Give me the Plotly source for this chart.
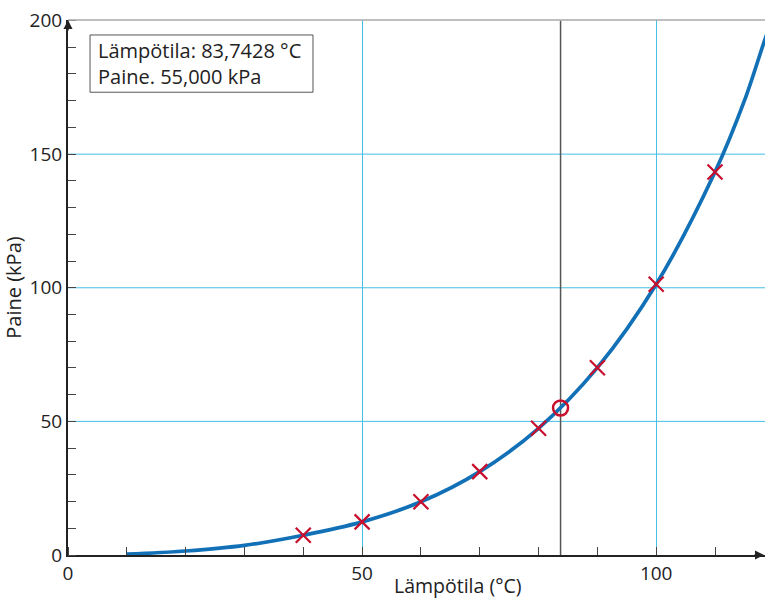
import plotly.graph_objects as go

# Measured points (temperature °C, pressure kPa)
meas_t = [40, 50, 60, 70, 80, 90, 100, 110]
meas_p = [7.4, 12.4, 19.9, 31.2, 47.4, 70.1, 101.3, 143.3]

# Fitted curve
curve_t = [10, 20, 30, 40, 50, 60, 70, 80, 90, 100, 110, 115, 118.5, 120]
curve_p = [0.3, 1.5, 3.6, 7.4, 12.4, 19.9, 31.2, 47.4, 70.1, 101.3, 143.3, 170.0, 193.0, 202.0]

sel_t = [83.7428]
sel_p = [55.0]

x_ticks = [0, 50, 100]
y_ticks = [0, 50, 100, 150, 200]

FONT = "Open Sans"
BLUE = "#1170b6"
RED = "#c8102e"
GRID = "#45bfe6"

fig = go.Figure()
fig.add_trace(go.Scatter(x=curve_t, y=curve_p, mode="lines",
                         line=dict(color=BLUE, width=3.7, shape="spline"),
                         hoverinfo="skip", showlegend=False))
fig.add_trace(go.Scatter(x=meas_t, y=meas_p, mode="markers",
                         marker=dict(symbol="x-thin", size=15, line=dict(color=RED, width=2.2)),
                         showlegend=False))
fig.add_trace(go.Scatter(x=sel_t, y=sel_p, mode="markers",
                         marker=dict(symbol="circle-open", size=15, color=RED, line=dict(color=RED, width=2.5)),
                         showlegend=False))

# horizontal grid lines at the inner y ticks
for yv in y_ticks[1:-1]:
    fig.add_shape(type="line", xref="paper", yref="y", x0=0, x1=1, y0=yv, y1=yv,
                  line=dict(color=GRID, width=1), layer="below")
# vertical marker line
fig.add_shape(type="line", xref="x", yref="y", x0=sel_t[0], x1=sel_t[0], y0=0, y1=200,
              line=dict(color="#555555", width=1.5), layer="below")
# top border
fig.add_shape(type="line", xref="paper", yref="paper", x0=0, x1=1, y0=1, y1=1,
              line=dict(color="#aaaaaa", width=1.5), layer="above")
# info box
fig.add_shape(type="rect", xref="paper", yref="paper", x0=0.0316, x1=0.3515, y0=0.865, y1=0.972,
              line=dict(color="#555555", width=1), fillcolor="white", layer="above")
fig.add_annotation(xref="paper", yref="paper", x=0.040, y=0.9185, xanchor="left", yanchor="middle",
                   text="Lämpötila: 83,7428 °C<br>Paine. 55,000 kPa", showarrow=False, align="left",
                   font=dict(family=FONT, size=20, color="#222222"))
# axis arrows
fig.add_annotation(xref="paper", yref="paper", x=0, y=1.0, ax=0, ay=12, axref="pixel", ayref="pixel",
                   text="", showarrow=True, arrowhead=2, arrowsize=1.2, arrowwidth=1.5, arrowcolor="#222222")
fig.add_annotation(xref="paper", yref="paper", x=1.0, y=0, ax=-12, ay=0,
                   text="", showarrow=True, arrowhead=2, arrowsize=1.2, arrowwidth=1.5, arrowcolor="#222222")
# x title
fig.add_annotation(xref="paper", yref="paper", x=0.5595, y=-0.086, xanchor="center", yanchor="bottom",
                   text="Lämpötila (°C)", showarrow=False, font=dict(family=FONT, size=19.5, color="#222222"))

fig.update_layout(
    width=765, height=601,
    margin=dict(l=68, r=0, t=20, b=46, autoexpand=False),
    plot_bgcolor="white", paper_bgcolor="white",
    font=dict(family=FONT, size=19, color="#222222"),
    xaxis=dict(range=[0, 118.5], tickvals=x_ticks, ticktext=[str(v) for v in x_ticks],
               showgrid=True, gridcolor=GRID, gridwidth=1, zeroline=False, automargin=False,
               showline=True, linecolor="#222222", linewidth=2, ticks="", ticklabelstandoff=0,
               ticklabeloverflow="allow",
               minor=dict(dtick=10, tick0=0, ticks="inside", ticklen=8, tickcolor="#444444", showgrid=False),
               fixedrange=True),
    yaxis=dict(range=[0, 200.2], tickvals=y_ticks, ticktext=[str(v) for v in y_ticks],
               showgrid=False, zeroline=False, automargin=False,
               showline=True, linecolor="#222222", linewidth=2, ticks="", ticklabelstandoff=0,
               ticklabeloverflow="allow",
               minor=dict(dtick=10, tick0=0, ticks="inside", ticklen=8, tickcolor="#444444", showgrid=False),
               title=dict(text="Paine (kPa)", standoff=4, font=dict(family=FONT, size=20)),
               fixedrange=True),
)

# remove the default page margin so the 765x601 figure fills the window exactly
fig.write_html("out.html", config={"displayModeBar": False}, post_script=(
    "document.body.style.margin='0';"
    "document.body.style.overflow='hidden';"
    "document.documentElement.style.overflow='hidden';"))
